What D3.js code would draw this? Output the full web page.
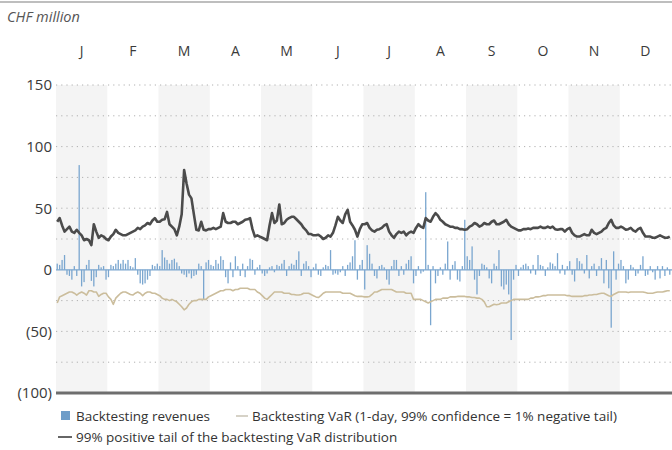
<!DOCTYPE html>
<html>
<head>
<meta charset="utf-8">
<script src="https://cdn.jsdelivr.net/npm/d3@7"></script>
<style>
  html, body { margin: 0; padding: 0; background: #fff; }
  svg { display: block; font-family: "Open Sans", "Noto Sans", sans-serif; }
</style>
</head>
<body>
<svg id="chart" width="672" height="450"></svg>
<script>
// Month labels
const months = ["J", "F", "M", "A", "M", "J", "J", "A", "S", "O", "N", "D"];
const monthKeys = months.map((m, i) => i);

// Y axis labelled ticks and dotted grid levels (CHF million)
const labelTicks = [150, 100, 50, 0, -50, -100];
const gridLevels = [150, 125, 100, 75, 50, 25, -25, -50, -75];

// Daily backtesting revenues (CHF million), 21 trading days per month
const revenues = [
  5, 4, 8, 12, -4, -5, -8, 3, -5, 85, -13.5, -10, 4, 8, -9, -13.5, -6, 4, 2, 3, -8,
  -6, 4, 3, 5, 8, 5, 8, 5, 8, 3, 2, 9.5, -4, -11, -12, -11, -8, -5, 4, 3, 5,
  3, 16, 10, 8, 5, 8, 9, 6, 3, -3, -4, -6, -3, -7, -5, -4, 5, 3, -24, 6, 8,
  4, 3, 8, 5, 11, 8, -6, -11, 6, -6, 11, 3, -5, 5, -6, 3, 9, 8, -4, 2, 4,
  -3, -5, -3, 2, 3, -2, 4, 3, 5, 8, -5, 3, 5, 4, 8, 15, -5, 5, 7, 3, -6,
  2, 5, -4, -5, 2, 4, 3, 16, -4, -3, -4, -2, 3, -5, 4, 6, 11, 24, -8, 4, 8,
  -16, 20, 13, 5, -5, -7, 3, 4, 2, -8, -12, 3, 8, 8, -5, 3, -4, 5, 8, 11, -11,
  -5, 3, -3, -1.5, 63, 4, -45, 3, -11, -5, 2, -4, 5, 23, -8, 4, 7, -8, -9.5, 3, 40.6,
  11, 8, 19, -8, -20, -5, 5, 4, 2, -7, -11, 5, 3, 16, -13.5, -16, -12, -20, -57, -8, 4,
  -5, 2, 4, 5, 3, -3, 4, -4, 12, 4, 3, -5, 2, 6, 5, 3, 13.5, -3, 4, -4, 3,
  7, -4, -9.5, 9.5, 7, 5, -3, 12, -7, 3, 5, -5, 3, 9.5, -11, 8, -15, -47, 15, -8, 5,
  8, 3, -11, -8, 4, 2, -5, -3, 4, 11, -5, -4, 3, -2, -8, 3, -7, 3, -5, 2, -4
];

// Backtesting VaR (1-day, 99% confidence)
const backtestVaR = [
  -27, -22, -21, -20, -19, -18, -18, -19, -20.5, -19, -18, -19, -20.5, -17, -17, -18, -18, -21.6, -20, -19, -19,
  -22, -24, -28, -23, -21, -19, -18, -18, -19, -20, -20.5, -19, -18, -19, -21, -19, -18, -18, -19, -19, -20,
  -21, -23, -24, -24, -25, -24, -25, -26, -28, -30, -32.5, -31, -28, -26, -25, -25, -24, -24, -24, -24, -22,
  -21, -20, -19, -18, -17, -17, -16, -16, -16, -17, -16, -16, -15, -15, -15, -15, -16, -16, -16, -18, -19,
  -21, -23, -24, -22, -20, -18, -18, -18, -18, -19, -19, -19, -20, -20, -20.5, -20.5, -20, -19, -19, -19, -20,
  -21, -22, -22.5, -21, -19, -18, -18, -18, -18, -18, -18, -18, -19, -19, -19, -19, -20, -21, -21.6, -21.6, -21.6,
  -22, -22, -21.6, -20, -18, -18, -17, -16, -16, -16, -16, -16, -17, -18, -18, -18, -18, -19, -19, -19, -24,
  -24, -24, -24, -25, -26, -27, -26, -25, -24, -24, -24, -23, -23, -23, -22, -22, -22, -21.6, -21.6, -21.6, -21.6,
  -22, -22, -22.5, -22.5, -23, -23, -24, -26, -30, -30, -29, -28, -28.4, -28, -27, -27, -27, -26, -25, -24, -24,
  -24, -24, -24, -24, -24, -23, -23, -22, -22, -21.6, -21, -21, -20.5, -20.5, -20.5, -20.5, -20.5, -20.5, -20.5, -20.5, -21,
  -21, -21.6, -21.6, -21.6, -21.6, -21.6, -21, -21, -20.5, -20.5, -20, -20, -19.5, -19, -19, -20, -21, -21.6, -20, -19, -18,
  -18, -18, -18, -18.5, -18, -18, -18, -18, -18, -18, -18.5, -19, -19, -19, -18.5, -18, -18, -18, -17.5, -17, -17
];

// 99% positive tail of the backtesting VaR distribution
const positiveTail = [
  39, 42, 36, 31, 33, 35, 31, 30, 32.5, 30, 28, 24, 25, 24, 20, 37, 31, 26, 28, 27, 25,
  24, 27, 29, 32.5, 30, 29, 28, 28, 29, 30, 31, 32, 34, 33, 35, 36, 38, 37, 40, 42, 39,
  39, 40.6, 41, 47, 37, 35, 33, 28, 35, 45, 81, 70, 61, 58, 45, 32.5, 32, 39, 32.5, 32, 33,
  33, 34, 33, 34, 35, 46, 39, 38, 38, 39, 39, 37, 38, 39, 40.6, 41, 42, 33, 27, 28, 27,
  26, 25, 24, 36, 46, 38, 40, 53, 37, 38, 40.6, 42, 43, 43, 41, 39, 37, 34, 32, 29, 29,
  28, 28, 28.5, 27, 25, 26, 28, 27, 30, 36, 43, 40, 38, 45, 48.7, 39, 36, 32.5, 27, 33, 37,
  37, 38, 34, 32, 31, 32.5, 33, 34, 36, 37, 31, 28, 26, 29, 31, 30, 31, 28, 30, 31, 30,
  34, 37, 35, 34, 42, 40, 39, 43, 46, 44, 40.6, 39, 37, 36, 35, 35, 34, 34, 33, 33, 32.5,
  33, 35, 36, 38, 37, 35, 36, 38, 37, 37, 39, 40, 37, 37, 38, 39, 40.6, 37, 35, 34, 33,
  32, 32, 33, 33, 33.5, 33, 34, 34, 34, 35, 34, 34, 35, 34, 35, 33, 32.5, 33, 33, 31, 33,
  34, 30, 28, 27, 27, 28, 29, 28, 28, 32.5, 30, 29, 30, 31, 33, 34, 38, 40.6, 36, 34, 34,
  35, 34, 32.5, 33, 34, 32, 31, 33, 34, 30, 27, 27, 27, 26, 26, 27, 28, 27, 26, 26, 27
];

const W = 672, H = 450;
const plot = { left: 56, right: 671, top: 85, bottom: 393 };
const nDays = revenues.length;

const svg = d3.select("#chart");

const x = d3.scaleLinear().domain([0, nDays]).range([plot.left, plot.right]);
const xMonth = d3.scaleBand().domain(monthKeys).range([plot.left, plot.right]).padding(0);
const y = d3.scaleLinear().domain([-100, 150]).range([plot.bottom, plot.top]);

// Top rule
svg.append("line")
  .attr("x1", 0).attr("x2", W).attr("y1", 2).attr("y2", 2)
  .attr("stroke", "#a8a8a8").attr("stroke-width", 1.5);

// Unit label
svg.append("text")
  .attr("x", 7).attr("y", 22)
  .attr("font-size", 14.5).attr("font-style", "italic").attr("fill", "#555")
  .text("CHF million");

// Alternating month shading
svg.append("g").selectAll("rect")
  .data(monthKeys.filter(k => k % 2 === 0))
  .join("rect")
  .attr("x", d => xMonth(d))
  .attr("width", xMonth.bandwidth())
  .attr("y", y(150))
  .attr("height", y(-100) - y(150))
  .attr("fill", "#f4f4f4");

// Dotted grid
svg.append("g").selectAll("line")
  .data(gridLevels)
  .join("line")
  .attr("x1", plot.left).attr("x2", W)
  .attr("y1", d => y(d)).attr("y2", d => y(d))
  .attr("stroke", "#b0b0b0").attr("stroke-width", 1)
  .attr("stroke-dasharray", "1.2,4");

// Month axis on top
const monthAxis = d3.axisTop(xMonth).tickFormat(k => months[k]).tickSize(0).tickPadding(0);
const gm = svg.append("g").attr("transform", "translate(0,56)").call(monthAxis);
gm.select(".domain").remove();
gm.selectAll("text").attr("font-size", 14).attr("fill", "#3a3a3a")
  .attr("font-family", "'Open Sans', 'Noto Sans', sans-serif");

// Y axis labels
const fmt = v => v < 0 ? "(" + Math.abs(v) + ")" : String(v);
const yAxis = d3.axisLeft(y).tickValues(labelTicks).tickFormat(fmt).tickSize(0).tickPadding(4);
const gy = svg.append("g").attr("transform", `translate(${plot.left},0)`).call(yAxis);
gy.select(".domain").remove();
gy.selectAll("text").attr("font-size", 15).attr("fill", "#3a3a3a")
  .attr("font-family", "'Open Sans', 'Noto Sans', sans-serif");

// Revenue bars
const barW = 1.3;
svg.append("g").selectAll("rect")
  .data(revenues)
  .join("rect")
  .attr("x", (d, i) => x(i + 0.5) - barW / 2)
  .attr("width", barW)
  .attr("y", d => y(Math.max(0, d)))
  .attr("height", d => Math.abs(y(d) - y(0)))
  .attr("fill", "#7aa6cf");

// Zero line
svg.append("line")
  .attr("x1", plot.left).attr("x2", W)
  .attr("y1", y(0)).attr("y2", y(0))
  .attr("stroke", "#7aa6cf").attr("stroke-width", 1.2);

// Lines
const line = d3.line().x((d, i) => x(i + 0.5)).y(d => y(d)).curve(d3.curveLinear);

svg.append("path")
  .datum(backtestVaR)
  .attr("d", line)
  .attr("fill", "none")
  .attr("stroke", "#cbbd9c")
  .attr("stroke-width", 1.6)
  .attr("stroke-linejoin", "round");

svg.append("path")
  .datum(positiveTail)
  .attr("d", line)
  .attr("fill", "none")
  .attr("stroke", "#4b4b4b")
  .attr("stroke-width", 2.6)
  .attr("stroke-linejoin", "round");

// Bottom axis line
svg.append("line")
  .attr("x1", plot.left).attr("x2", W)
  .attr("y1", y(-100)).attr("y2", y(-100))
  .attr("stroke", "#6e6e6e").attr("stroke-width", 3);

// Legend
const lg = svg.append("g").attr("font-size", 13.5).attr("fill", "#333");
lg.append("rect").attr("x", 61).attr("y", 411).attr("width", 9).attr("height", 9).attr("fill", "#6f9dc8");
lg.append("text").attr("x", 76).attr("y", 421).text("Backtesting revenues");
lg.append("line").attr("x1", 236).attr("x2", 248).attr("y1", 416).attr("y2", 416)
  .attr("stroke", "#c9c3b4").attr("stroke-width", 1.5);
lg.append("text").attr("x", 252).attr("y", 421).text("Backtesting VaR (1-day, 99% confidence = 1% negative tail)");
lg.append("line").attr("x1", 58).attr("x2", 72).attr("y1", 437).attr("y2", 437)
  .attr("stroke", "#333").attr("stroke-width", 1.5);
lg.append("text").attr("x", 76).attr("y", 442).text("99% positive tail of the backtesting VaR distribution");
</script>
</body>
</html>
